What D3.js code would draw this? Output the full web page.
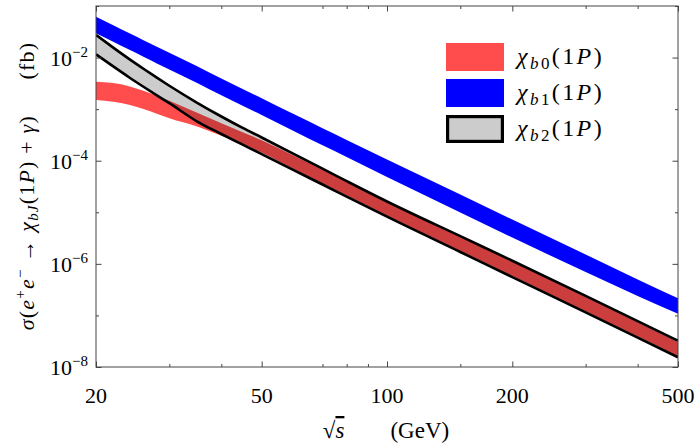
<!DOCTYPE html>
<html>
<head>
<meta charset="utf-8">
<script src="https://cdn.jsdelivr.net/npm/d3@7"></script>
<style>
body { margin: 0; background: #fff; }
.it { font-style: italic; }
</style>
</head>
<body>
<svg id="chart" width="697" height="443" font-family="'Liberation Serif', 'Times New Roman', Tinos, 'DejaVu Serif', 'Noto Serif', serif"></svg>
<script>
// sqrt(s) sample points (GeV) and band edges (fb)
var sqrtS = [20, 22, 24, 26, 28, 30, 35, 40, 45, 50, 60, 70, 80, 100, 150, 200, 300, 400, 500];

var chib0Upper = [3.406e-3, 3.214e-3, 2.785e-3, 2.268e-3, 1.823e-3, 1.458e-3, 8.494e-4, 5.313e-4, 3.573e-4, 2.488e-4,
    1.235e-4, 6.694e-5, 3.866e-5, 1.548e-5, 3.318e-6, 1.111e-6, 2.297e-7, 7.458e-8, 3.054e-8];
var chib0Lower = [1.504e-3, 1.394e-3, 1.214e-3, 1.002e-3, 8.125e-4, 6.675e-4, 4.608e-4, 3.042e-4, 2.119e-4, 1.443e-4,
    6.723e-5, 3.616e-5, 2.107e-5, 8.585e-6, 1.776e-6, 5.788e-7, 1.197e-7, 3.886e-8, 1.612e-8];

var chib1Upper = [6.203e-2, 4.244e-2, 2.996e-2, 2.172e-2, 1.618e-2, 1.238e-2, 6.77e-3, 3.91e-3, 2.447e-3, 1.623e-3,
    7.835e-4, 4.252e-4, 2.522e-4, 1.056e-4, 2.212e-5, 7.216e-6, 1.519e-6, 4.972e-7, 2.148e-7];
var chib1Lower = [2.955e-2, 2.022e-2, 1.427e-2, 1.035e-2, 7.71e-3, 5.898e-3, 3.225e-3, 1.863e-3, 1.166e-3, 7.73e-4,
    3.70e-4, 1.991e-4, 1.181e-4, 4.83e-5, 9.90e-6, 3.23e-6, 6.95e-7, 2.38e-7, 1.075e-7];

var chib2Upper = [2.740e-2, 1.556e-2, 9.425e-3, 6.066e-3, 4.076e-3, 2.845e-3, 1.329e-3, 7.202e-4, 4.328e-4, 2.819e-4,
    1.326e-4, 7.003e-5, 4.024e-5, 1.619e-5, 3.439e-6, 1.151e-6, 2.402e-7, 7.762e-8, 3.236e-8];
var chib2Lower = [1.157e-2, 6.732e-3, 4.155e-3, 2.716e-3, 1.849e-3, 1.304e-3, 5.759e-4, 3.297e-4, 2.052e-4, 1.344e-4,
    6.432e-5, 3.458e-5, 2.014e-5, 8.212e-6, 1.698e-6, 5.536e-7, 1.145e-7, 3.716e-8, 1.542e-8];

var xTicks = [20, 50, 100, 200, 500];
var xMinorTicks = [30, 40, 70, 80, 90, 150, 300, 400];
var yTicks = [1e-8, 1e-6, 1e-4, 1e-2];
var yMinorTicks = [1e-7, 1e-5, 1e-3, 1e-1];
var yTickExp = ['−8', '−6', '−4', '−2'];

var legendItems = [
    { sub: 'b0', fill: '#ff4d4d', stroke: 'none' },
    { sub: 'b1', fill: '#0000ff', stroke: 'none' },
    { sub: 'b2', fill: '#cccccc', stroke: '#000' }
];

var svg = d3.select('#chart');
var plotLeft = 96, plotRight = 678, plotTop = 6, plotBottom = 367;

var x = d3.scaleLog().domain([20, 500]).range([plotLeft, plotRight]);
var y = d3.scaleLog().domain([1e-8, 1e-1]).range([plotBottom, plotTop]);

svg.append('clipPath').attr('id', 'plot-clip')
    .append('rect')
    .attr('x', plotLeft).attr('y', plotTop)
    .attr('width', plotRight - plotLeft).attr('height', plotBottom - plotTop);

function area(lower, upper) {
    return d3.area()
        .x((d, i) => x(sqrtS[i]))
        .y0((d, i) => y(lower[i]))
        .y1((d, i) => y(upper[i]))
        .curve(d3.curveMonotoneX)(sqrtS);
}

function line(vals) {
    return d3.line()
        .x((d, i) => x(sqrtS[i]))
        .y((d, i) => y(vals[i]))
        .curve(d3.curveMonotoneX)(sqrtS);
}

var plot = svg.append('g').attr('clip-path', 'url(#plot-clip)');

// chi_b2 band underneath, chi_b0 multiplied on top
plot.append('path').attr('d', area(chib2Lower, chib2Upper)).attr('fill', '#cccccc');
plot.append('path').attr('d', area(chib0Lower, chib0Upper))
    .attr('fill', '#ff4d4d')
    .style('mix-blend-mode', 'multiply');
[chib2Lower, chib2Upper].forEach(vals => {
    plot.append('path').attr('d', line(vals))
        .attr('fill', 'none')
        .attr('stroke', '#000')
        .attr('stroke-width', 2.6);
});
plot.append('path').attr('d', area(chib1Lower, chib1Upper)).attr('fill', '#0000ff');

// ticks (inside, mirrored on all four sides)
function ticks(axis, vals, size, translate) {
    var g = svg.append('g')
        .attr('transform', translate)
        .call(axis.tickValues(vals).tickSize(size).tickSizeOuter(0).tickFormat(''));
    g.select('.domain').remove();
    g.selectAll('line').attr('stroke', '#444');
    return g;
}
ticks(d3.axisBottom(x), xTicks, -5.5, `translate(0,${plotBottom})`);
ticks(d3.axisBottom(x), xMinorTicks, -3, `translate(0,${plotBottom})`);
ticks(d3.axisTop(x), xTicks, -5.5, `translate(0,${plotTop})`);
ticks(d3.axisTop(x), xMinorTicks, -3, `translate(0,${plotTop})`);
ticks(d3.axisLeft(y), yTicks, -5.5, `translate(${plotLeft},0)`);
ticks(d3.axisLeft(y), yMinorTicks, -3, `translate(${plotLeft},0)`);
ticks(d3.axisRight(y), yTicks, -5.5, `translate(${plotRight},0)`);
ticks(d3.axisRight(y), yMinorTicks, -3, `translate(${plotRight},0)`);

svg.append('rect')
    .attr('x', plotLeft).attr('y', plotTop)
    .attr('width', plotRight - plotLeft).attr('height', plotBottom - plotTop)
    .attr('fill', 'none')
    .attr('stroke', '#444')
    .attr('stroke-width', 1);

// tick labels
svg.append('g').selectAll('text')
    .data(xTicks).enter()
    .append('text')
    .attr('x', d => x(d))
    .attr('y', plotBottom + 36)
    .attr('text-anchor', 'middle')
    .style('font-size', '22px')
    .text(d => d);

var yLab = svg.append('g').selectAll('text')
    .data(yTicks).enter()
    .append('text')
    .attr('x', plotLeft - 8)
    .attr('y', d => y(d) + 8)
    .attr('text-anchor', 'end')
    .style('font-size', '22px');
yLab.append('tspan').text('10');
yLab.append('tspan')
    .attr('dy', -9)
    .style('font-size', '15px')
    .text((d, i) => yTickExp[i]);

// axis titles
var xt = svg.append('text')
    .attr('x', 386)
    .attr('y', 438)
    .attr('text-anchor', 'middle')
    .style('font-size', '23px');
xt.append('tspan').text('√');
xt.append('tspan').attr('class', 'it').style('text-decoration', 'overline').text('s');
xt.append('tspan').text('\u2003\u2003(GeV)');

var yt = svg.append('text')
    .attr('transform', 'translate(34,186) rotate(-90)')
    .attr('text-anchor', 'middle')
    .style('font-size', '22px')
    .style('letter-spacing', '1.2px');
yt.append('tspan').attr('class', 'it').text('σ');
yt.append('tspan').text('(');
yt.append('tspan').attr('class', 'it').text('e');
yt.append('tspan').attr('dy', -9).style('font-size', '15px').text('+');
yt.append('tspan').attr('dy', 9).attr('class', 'it').text('e');
yt.append('tspan').attr('dy', -9).style('font-size', '15px').text('−');
yt.append('tspan').attr('dy', 9).text(' → ');
yt.append('tspan').attr('class', 'it').text('χ');
yt.append('tspan').attr('dy', 4).attr('class', 'it').style('font-size', '15px').text('bJ');
yt.append('tspan').attr('dy', -4).text('(1');
yt.append('tspan').attr('class', 'it').text('P');
yt.append('tspan').text(') + ');
yt.append('tspan').attr('class', 'it').text('γ');
yt.append('tspan').text(')\u2003\u2002(fb)');

// legend
var legend = svg.append('g').attr('transform', 'translate(446,43)');
var item = legend.selectAll('g')
    .data(legendItems).enter()
    .append('g')
    .attr('transform', (d, i) => `translate(0,${i * 36})`);
item.append('rect')
    .attr('x', d => d.stroke === 'none' ? 0 : 1.6)
    .attr('y', d => d.stroke === 'none' ? 0 : 1.6)
    .attr('width', d => d.stroke === 'none' ? 58 : 54.8)
    .attr('height', d => d.stroke === 'none' ? 28 : 24.8)
    .attr('fill', d => d.fill)
    .attr('stroke', d => d.stroke)
    .attr('stroke-width', 3.2);
var lt = item.append('text')
    .attr('x', 71)
    .attr('y', 21)
    .style('font-size', '24px')
    .style('letter-spacing', '2.4px');
lt.append('tspan').attr('class', 'it').text('χ');
lt.append('tspan').attr('dy', 5).style('font-size', '17px')
    .html(d => `<tspan class="it">${d.sub[0]}</tspan>${d.sub[1]}`);
lt.append('tspan').attr('dy', -5).text('(1');
lt.append('tspan').attr('class', 'it').text('P');
lt.append('tspan').text(')');
</script>
</body>
</html>
